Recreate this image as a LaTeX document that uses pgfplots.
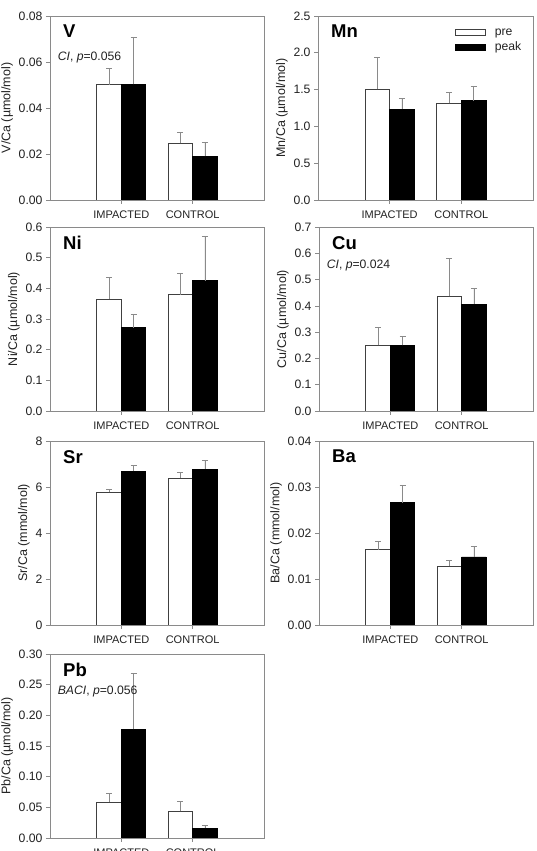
\documentclass[border=0pt]{standalone}
\usepackage{pgfplots}
\pgfplotsset{compat=1.18}
\usepackage{fontspec}
\setmainfont{Liberation Sans}
\definecolor{framegray}{HTML}{8A8A8A}
\definecolor{txt}{HTML}{222222}
\pgfplotsset{
  panel/.style={
    scale only axis, width=214pt, height=184pt,
    xmin=0, xmax=3, ymin=0,
    xtick={1,2}, xticklabels={IMPACTED,CONTROL},
    tick align=outside, xtick pos=bottom, ytick pos=left,
    axis line style={framegray, line width=0.7pt},
    major tick length=4pt,
    tick style={framegray, line width=0.7pt},
    scaled y ticks=false,
    /pgf/number format/assume math mode=true,
    yticklabel style={font=\fontsize{12.2}{14}\selectfont, text=txt},
    xticklabel style={font=\fontsize{11}{12}\selectfont, text=txt, yshift=-3pt},
    ylabel style={font=\fontsize{12.5}{14}\selectfont, text=txt, yshift=-1pt},
    ybar, bar width=0.343,
    legend image code/.code={\draw[#1] (0pt,-3pt) rectangle (30pt,3pt);},
  },
  pre/.style={bar shift=-0.1715, fill=white, draw=black!75, line width=0.8pt,
    error bars/.cd, y dir=plus, y explicit, error mark=|,
    error bar style={framegray, line width=0.7pt},
    error mark options={draw=framegray, line width=0.7pt, mark size=3pt}},
  peak/.style={bar shift=0.1715, fill=black, draw=black, line width=0.8pt,
    error bars/.cd, y dir=plus, y explicit, error mark=|,
    error bar style={framegray, line width=0.7pt},
    error mark options={draw=framegray, line width=0.7pt, mark size=3pt}},
}
\newcommand{\ptitle}[1]{\node[anchor=west, font=\bfseries\fontsize{18.5}{20}\selectfont, text=black] at (rel axis cs:0.045,0.915) {#1};}
\newcommand{\pnote}[2]{\node[anchor=west, font=\fontsize{12.2}{14}\selectfont, text=txt] at (rel axis cs:0.02,#2) {#1};}
\begin{document}
\begin{tikzpicture}
% V
\begin{axis}[panel, at={(50pt,651pt)}, anchor=south west,
  ymax=0.08, ytick={0,0.02,0.04,0.06,0.08},
  yticklabel style={/pgf/number format/.cd, fixed, fixed zerofill, precision=2},
  ylabel={V/Ca (µmol/mol)}]
\addplot[pre] coordinates {(1,0.0501) +- (0,0.0071) (2,0.0246) +- (0,0.0048)};
\addplot[peak] coordinates {(1,0.0503) +- (0,0.0204) (2,0.0190) +- (0,0.0059)};
\ptitle{V}
\pnote{\textit{CI}, \textit{p}=0.056}{0.775}
\end{axis}
% Mn
\begin{axis}[panel, at={(318pt,651pt)}, anchor=south west, width=215pt,
  ymax=2.5, ytick={0,0.5,1,1.5,2,2.5},
  yticklabel style={/pgf/number format/.cd, fixed, fixed zerofill, precision=1},
  ylabel={Mn/Ca (µmol/mol)},
  legend style={at={(rel axis cs:0.97,0.955)}, anchor=north east, draw=none, fill=none,
    font=\fontsize{12.2}{14}\selectfont, text=txt, row sep=1.5pt, column sep=7pt},
  legend cell align=left]
\addplot[pre] coordinates {(1,1.504) +- (0,0.434) (2,1.313) +- (0,0.150)};
\addplot[peak] coordinates {(1,1.236) +- (0,0.145) (2,1.350) +- (0,0.190)};
\legend{pre,peak}
\ptitle{Mn}
\end{axis}
% Ni
\begin{axis}[panel, at={(50pt,440pt)}, anchor=south west,
  ymax=0.6, ytick={0,0.1,0.2,0.3,0.4,0.5,0.6},
  yticklabel style={/pgf/number format/.cd, fixed, fixed zerofill, precision=1},
  ylabel={Ni/Ca (µmol/mol)}]
\addplot[pre] coordinates {(1,0.365) +- (0,0.070) (2,0.379) +- (0,0.070)};
\addplot[peak] coordinates {(1,0.272) +- (0,0.043) (2,0.425) +- (0,0.146)};
\ptitle{Ni}
\end{axis}
% Cu
\begin{axis}[panel, at={(319pt,440pt)}, anchor=south west,
  ymax=0.7, ytick={0,0.1,0.2,0.3,0.4,0.5,0.6,0.7},
  yticklabel style={/pgf/number format/.cd, fixed, fixed zerofill, precision=1},
  ylabel={Cu/Ca (µmol/mol)}]
\addplot[pre] coordinates {(1,0.250) +- (0,0.068) (2,0.436) +- (0,0.143)};
\addplot[peak] coordinates {(1,0.250) +- (0,0.033) (2,0.407) +- (0,0.059)};
\ptitle{Cu}
\pnote{\textit{CI}, \textit{p}=0.024}{0.79}
\end{axis}
% Sr
\begin{axis}[panel, at={(50pt,226pt)}, anchor=south west,
  ymax=8, ytick={0,2,4,6,8},
  ylabel={Sr/Ca (mmol/mol)}]
\addplot[pre] coordinates {(1,5.77) +- (0,0.14) (2,6.39) +- (0,0.24)};
\addplot[peak] coordinates {(1,6.69) +- (0,0.23) (2,6.78) +- (0,0.36)};
\ptitle{Sr}
\end{axis}
% Ba
\begin{axis}[panel, at={(319pt,226pt)}, anchor=south west,
  ymax=0.04, ytick={0,0.01,0.02,0.03,0.04},
  yticklabel style={/pgf/number format/.cd, fixed, fixed zerofill, precision=2},
  ylabel={Ba/Ca (mmol/mol)}]
\addplot[pre] coordinates {(1,0.0164) +- (0,0.0018) (2,0.0128) +- (0,0.0012)};
\addplot[peak] coordinates {(1,0.0266) +- (0,0.0037) (2,0.0148) +- (0,0.0023)};
\ptitle{Ba}
\end{axis}
% Pb
\begin{axis}[panel, at={(50pt,13pt)}, anchor=south west,
  ymax=0.30, ytick={0,0.05,0.10,0.15,0.20,0.25,0.30},
  yticklabel style={/pgf/number format/.cd, fixed, fixed zerofill, precision=2},
  ylabel={Pb/Ca (µmol/mol)}]
\addplot[pre] coordinates {(1,0.0583) +- (0,0.0141) (2,0.0436) +- (0,0.0157)};
\addplot[peak] coordinates {(1,0.1775) +- (0,0.0905) (2,0.0163) +- (0,0.0049)};
\ptitle{Pb}
\pnote{\textit{BACI}, \textit{p}=0.056}{0.795}
\end{axis}
\pgfresetboundingbox
\path[use as bounding box] (0,0) rectangle (537pt,851pt);
\end{tikzpicture}
\end{document}
